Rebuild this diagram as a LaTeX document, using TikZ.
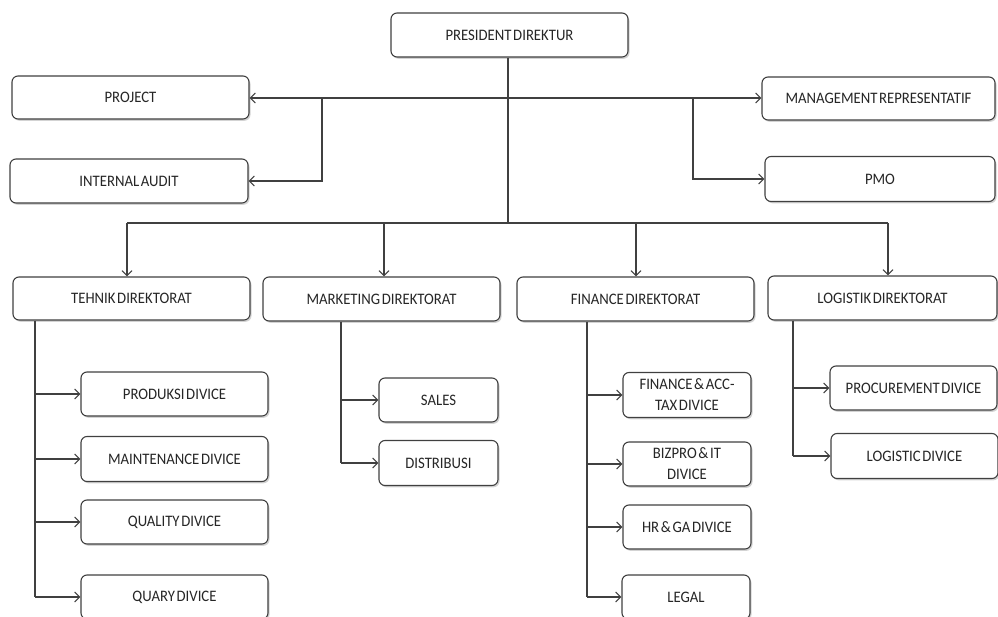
\documentclass[tikz,border=0pt]{standalone}
\usepackage{fontspec}
\setmainfont{Carlito}[WordSpace=0.5,FakeStretch=0.92]
\usetikzlibrary{arrows.meta,shadows}
\definecolor{ln}{HTML}{404040}
\definecolor{tx}{HTML}{262626}
\begin{document}
\begin{tikzpicture}[x=1pt,y=-1pt,
  box/.style={draw=ln,line width=1.1pt,rounded corners=6pt,fill=white,
    text=tx,font=\fontsize{16}{21}\selectfont,align=center,inner sep=1pt,
    drop shadow={shadow xshift=1.5pt,shadow yshift=-1.8pt,opacity=0.35}},
  conn/.style={draw=ln,line width=1.1pt},
  arr/.style={conn,-{Straight Barb[length=5pt,width=10pt]}}]
\useasboundingbox (0,0) rectangle (998,617);
% top level
\node[box,minimum width=237pt,minimum height=44pt] (pres) at (509.5,35) {PRESIDENT DIREKTUR};
\node[box,minimum width=237pt,minimum height=43pt] (proj) at (130.5,97.5) {PROJECT};
\node[box,minimum width=238pt,minimum height=44pt] (ia) at (129,181) {INTERNAL AUDIT};
\node[box,minimum width=233pt,minimum height=43pt] (mr) at (878.5,98.5) {MANAGEMENT REPRESENTATIF};
\node[box,minimum width=230pt,minimum height=45pt] (pmo) at (880,179) {PMO};
% direktorat
\node[box,minimum width=237pt,minimum height=43pt] (tek) at (131.5,298.5) {TEHNIK DIREKTORAT};
\node[box,minimum width=237pt,minimum height=44pt] (mkt) at (381.5,299) {MARKETING DIREKTORAT};
\node[box,minimum width=237pt,minimum height=44pt] (fin) at (635.5,299) {FINANCE DIREKTORAT};
\node[box,minimum width=229pt,minimum height=44pt] (log) at (882.5,298) {LOGISTIK DIREKTORAT};
% tehnik children
\node[box,minimum width=187pt,minimum height=44pt] (prod) at (174.5,394) {PRODUKSI DIVICE};
\node[box,minimum width=187pt,minimum height=45pt] (maint) at (174.5,459) {MAINTENANCE DIVICE};
\node[box,minimum width=187pt,minimum height=44pt] (qual) at (174.5,522) {QUALITY DIVICE};
\node[box,minimum width=187pt,minimum height=44pt] (quary) at (174.5,597) {QUARY DIVICE};
% marketing children
\node[box,minimum width=119pt,minimum height=44pt] (sales) at (438.5,400) {SALES};
\node[box,minimum width=119pt,minimum height=45pt] (dist) at (438.5,463) {DISTRIBUSI};
% finance children
\node[box,minimum width=128pt,minimum height=45pt] (facc) at (687,395) {FINANCE \& ACC-\\TAX DIVICE};
\node[box,minimum width=128pt,minimum height=44pt] (biz) at (687,464) {BIZPRO \& IT\\DIVICE};
\node[box,minimum width=128pt,minimum height=44pt] (hr) at (687,527) {HR \& GA DIVICE};
\node[box,minimum width=128pt,minimum height=44pt] (legal) at (686,597) {LEGAL};
% logistik children
\node[box,minimum width=167pt,minimum height=44pt] (proc) at (913.5,388) {PROCUREMENT DIVICE};
\node[box,minimum width=167pt,minimum height=45pt] (logd) at (914.5,456) {LOGISTIC DIVICE};
% junctions
\coordinate (jtop) at (508,98);
\coordinate (jbus) at (508,223);
\coordinate (jl) at (322,98);
\coordinate (jr) at (693,98);
\coordinate (b1) at (127,223);
\coordinate (b2) at (384,223);
\coordinate (b3) at (636,223);
\coordinate (b4) at (888,223);
% top connectors
\draw[conn] (pres.south -| jtop) -- (jbus);
\draw[arr] (jtop) -- (jtop -| proj.east);
\draw[arr] (jtop) -- (jtop -| mr.west);
\draw[arr] (jl) |- (ia.east);
\draw[arr] (jr) |- (pmo.west);
% bus
\draw[conn] (b1) -- (b4);
\draw[arr] (b1) -- (b1 |- tek.north);
\draw[arr] (b2) -- (b2 |- mkt.north);
\draw[arr] (b3) -- (b3 |- fin.north);
\draw[arr] (b4) -- (b4 |- log.north);
% tehnik trunk
\coordinate (t1) at (35,0);
\draw[conn] (t1 |- tek.south) -- (t1 |- quary.west);
\foreach \c in {prod,maint,qual,quary} \draw[arr] (t1 |- \c.west) -- (\c.west);
% marketing trunk
\coordinate (t2) at (341,0);
\draw[conn] (t2 |- mkt.south) -- (t2 |- dist.west);
\foreach \c in {sales,dist} \draw[arr] (t2 |- \c.west) -- (\c.west);
% finance trunk
\coordinate (t3) at (587,0);
\draw[conn] (t3 |- fin.south) -- (t3 |- legal.west);
\foreach \c in {facc,biz,hr,legal} \draw[arr] (t3 |- \c.west) -- (\c.west);
% logistik trunk
\coordinate (t4) at (793,0);
\draw[conn] (t4 |- log.south) -- (t4 |- logd.west);
\foreach \c in {proc,logd} \draw[arr] (t4 |- \c.west) -- (\c.west);
\end{tikzpicture}
\end{document}
